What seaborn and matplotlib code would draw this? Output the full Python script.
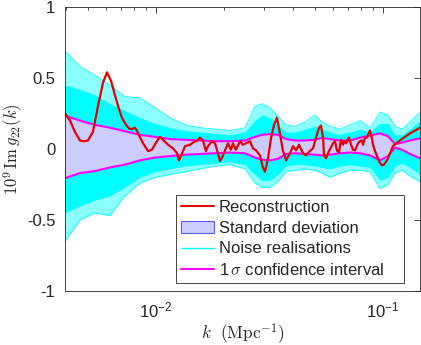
import numpy as np
import seaborn as sns
import matplotlib.pyplot as plt
from matplotlib.lines import Line2D
from matplotlib.patches import Patch

# values; x stored as log10 k (k in Mpc^-1)
grid_logk = [-2.401, -2.335, -2.269, -2.203, -2.137, -2.070, -2.004, -1.938, -1.872, -1.806,
             -1.740, -1.674, -1.608, -1.564, -1.533, -1.498, -1.463, -1.427, -1.388, -1.344,
             -1.300, -1.269, -1.233, -1.189, -1.145, -1.101, -1.057, -1.013, -0.978, -0.947,
             -0.916, -0.881, -0.837]

# 1 sigma band
sigma_hi = [0.234, 0.20, 0.17, 0.15, 0.125, 0.10, 0.085, 0.07, 0.065, 0.06,
            0.055, 0.055, 0.06, 0.085, 0.10, 0.105, 0.10, 0.07, 0.06, 0.06,
            0.065, 0.078, 0.07, 0.06, 0.06, 0.08, 0.095, 0.11, 0.09, 0.035,
            0.045, 0.06, 0.075]
sigma_lo = [-0.205, -0.17, -0.155, -0.13, -0.11, -0.08, -0.06, -0.05, -0.04, -0.035,
            -0.03, -0.025, -0.03, -0.06, -0.075, -0.08, -0.07, -0.035, -0.03, -0.035,
            -0.04, -0.045, -0.04, -0.03, -0.025, -0.03, -0.045, -0.08, -0.05, 0.01,
            -0.005, -0.035, -0.065]

# spread of the noise realisations: outermost curves and the dense core
noise_hi = [0.69, 0.58, 0.52, 0.45, 0.37, 0.36, 0.29, 0.22, 0.17, 0.15,
            0.14, 0.13, 0.15, 0.30, 0.32, 0.29, 0.23, 0.17, 0.16, 0.19,
            0.24, 0.19, 0.16, 0.14, 0.17, 0.20, 0.15, 0.26, 0.24, 0.16,
            0.14, 0.19, 0.26]
noise_lo = [-0.65, -0.50, -0.45, -0.47, -0.33, -0.24, -0.20, -0.18, -0.16, -0.14,
            -0.12, -0.11, -0.14, -0.24, -0.27, -0.27, -0.23, -0.16, -0.15, -0.14,
            -0.15, -0.17, -0.20, -0.17, -0.15, -0.15, -0.16, -0.28, -0.25, -0.17,
            -0.15, -0.19, -0.23]
core_hi = [0.45, 0.42, 0.38, 0.32, 0.27, 0.22, 0.18, 0.15, 0.13, 0.12,
           0.11, 0.10, 0.12, 0.20, 0.24, 0.22, 0.17, 0.12, 0.12, 0.14,
           0.16, 0.14, 0.12, 0.10, 0.12, 0.14, 0.12, 0.18, 0.18, 0.10,
           0.10, 0.14, 0.20]
core_lo = [-0.45, -0.40, -0.36, -0.33, -0.27, -0.20, -0.16, -0.14, -0.12, -0.11,
           -0.10, -0.09, -0.11, -0.18, -0.22, -0.22, -0.18, -0.12, -0.11, -0.11,
           -0.12, -0.13, -0.14, -0.12, -0.11, -0.12, -0.13, -0.22, -0.20, -0.12,
           -0.10, -0.13, -0.18]

# reconstruction
recon_logk = [-2.401, -2.379, -2.357, -2.335, -2.317, -2.300, -2.278, -2.256, -2.233, -2.216,
              -2.198, -2.181, -2.163, -2.150, -2.132, -2.119, -2.106, -2.093, -2.084, -2.070,
              -2.057, -2.035, -2.018, -1.996, -1.982, -1.969, -1.947, -1.925, -1.907, -1.899,
              -1.885, -1.872, -1.850, -1.837, -1.819, -1.806, -1.793, -1.780, -1.771, -1.753,
              -1.740, -1.727, -1.718, -1.709, -1.696, -1.683, -1.670, -1.661, -1.648, -1.630,
              -1.617, -1.604, -1.586, -1.573, -1.559, -1.542, -1.529, -1.520, -1.507, -1.493,
              -1.480, -1.467, -1.454, -1.441, -1.427, -1.410, -1.396, -1.383, -1.370, -1.352,
              -1.339, -1.326, -1.308, -1.295, -1.282, -1.273, -1.264, -1.260, -1.251, -1.238,
              -1.220, -1.211, -1.203, -1.194, -1.185, -1.176, -1.172, -1.163, -1.150, -1.141,
              -1.132, -1.123, -1.110, -1.101, -1.093, -1.088, -1.079, -1.070, -1.066, -1.057,
              -1.048, -1.044, -1.035, -1.022, -1.013, -1.004, -0.996, -0.982, -0.969, -0.956,
              -0.938, -0.912, -0.881, -0.859, -0.837]
recon = [0.25, 0.20, 0.12, 0.06, 0.055, 0.06, 0.12, 0.30, 0.47, 0.54,
         0.48, 0.38, 0.28, 0.22, 0.17, 0.145, 0.14, 0.15, 0.13, 0.08,
         0.04, -0.015, -0.005, 0.055, 0.085, 0.065, 0.03, 0.005, -0.03, -0.08,
         -0.03, 0.02, 0.03, 0.045, 0.06, 0.08, 0.06, -0.015, 0.02, 0.055,
         0.04, -0.03, -0.085, -0.06, -0.01, 0.04, -0.005, 0.04, -0.005, 0.055,
         0.03, 0.04, 0.055, 0.005, -0.01, -0.045, -0.13, -0.16, -0.07, 0.08,
         0.17, 0.22, 0.11, -0.01, -0.08, -0.03, 0.02, -0.01, 0.03, -0.03,
         -0.045, -0.02, 0.005, 0.08, 0.15, 0.165, 0.08, -0.04, -0.065, -0.015,
         0.04, 0.055, -0.01, -0.025, 0.065, 0.03, 0.055, 0.04, 0.08, 0.03,
         -0.005, -0.01, 0.04, 0.055, 0.06, 0.03, 0.08, 0.08, 0.10, 0.13,
         0.07, 0.03, -0.015, -0.065, -0.10, -0.115, -0.11, -0.08, -0.03, 0.02,
         0.045, 0.075, 0.11, 0.13, 0.15]

y_ticks = [-1, -0.5, 0, 0.5, 1]
y_ticklabels = ['-1', '-0.5', '0', '0.5', '1']

sns.set_theme(style='white')
plt.rcParams['font.family'] = ['Liberation Sans', 'DejaVu Sans']
plt.rcParams['mathtext.fontset'] = 'cm'
plt.rcParams['axes.unicode_minus'] = False

dark = '0.15'
cyan = '#00ffff'
k_grid = 10 ** np.array(grid_logk)
k_rec = 10 ** np.array(recon_logk)

fig = plt.figure(figsize=(4.21, 3.45), dpi=100)
ax = fig.add_axes([0.1544, 0.1565, 0.8432, 0.8232])

# noise realisations
ax.fill_between(k_grid, noise_lo, noise_hi, color=cyan, alpha=0.45, lw=0)
ax.fill_between(k_grid, core_lo, core_hi, color=cyan, lw=0)
sns.lineplot(x=k_grid, y=noise_hi, color=cyan, lw=0.6, ax=ax)
sns.lineplot(x=k_grid, y=noise_lo, color=cyan, lw=0.6, ax=ax)

# standard deviation band and 1 sigma lines
ax.fill_between(k_grid, sigma_lo, sigma_hi, facecolor='#ccccff', edgecolor='none')
sns.lineplot(x=k_grid, y=sigma_hi, color='#ff00ff', lw=1.5, ax=ax)
sns.lineplot(x=k_grid, y=sigma_lo, color='#ff00ff', lw=1.5, ax=ax)

# reconstruction
sns.lineplot(x=k_rec, y=recon, color='#e60000', lw=1.6, ax=ax)

ax.set_xscale('log')
ax.set_xlim(k_grid[0], k_grid[-1])
ax.set_ylim(-1, 1)
ax.set_yticks(y_ticks)
ax.set_yticklabels(y_ticklabels)

ax.tick_params(which='both', direction='in', top=True, right=True,
               colors=dark, labelsize=12, pad=7)
ax.tick_params(which='major', length=4, width=0.6)
ax.tick_params(which='minor', length=2.2, width=0.6)
for s in ax.spines.values():
    s.set_color(dark)
    s.set_linewidth(0.6)

ax.set_xlabel(r'$k\ \ (\mathrm{Mpc}^{-1})$', fontsize=12.5, color=dark, labelpad=0)
ax.set_ylabel(r'$10^9\,\mathrm{Im}\,g_{22}(k)$', fontsize=12, color=dark, labelpad=1)

handles = [
    Line2D([], [], color='#e60000', lw=1.5),
    Patch(facecolor='#ccccff', edgecolor='#5a5aff', lw=0.8),
    Line2D([], [], color=cyan, lw=1.0),
    Line2D([], [], color='#ff00ff', lw=1.5),
]
labels = ['Reconstruction', 'Standard deviation', 'Noise realisations',
          r'1$\,\sigma$ confidence interval    ']
leg = ax.legend(handles, labels, loc='upper left', bbox_to_anchor=(0.3127, 0.338),
                fontsize=12, frameon=True, fancybox=False, framealpha=1,
                edgecolor=dark, borderaxespad=0, borderpad=0.3,
                handlelength=2.0, handletextpad=0.25, labelspacing=0.34)
leg.get_frame().set_linewidth(0.6)

fig.savefig('out.png', dpi=100)
